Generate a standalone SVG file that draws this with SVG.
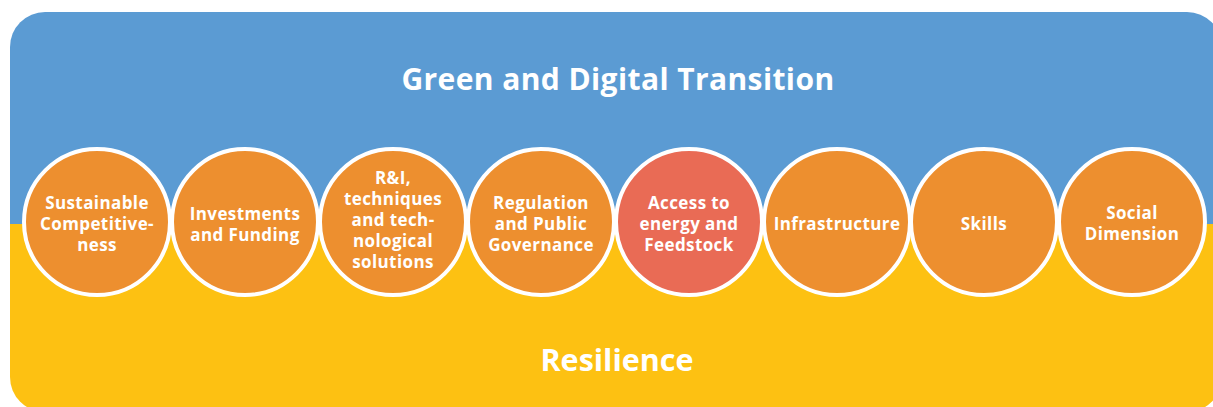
<svg xmlns="http://www.w3.org/2000/svg" width="1213" height="407" viewBox="0 0 1213 407">
<style>
.c{stroke:#fff;stroke-width:4}
.o{fill:#ED8F2F}
.r{fill:#E96B55}
.t{font-family:"Open Sans","Liberation Sans",sans-serif;font-weight:bold;fill:#fff;text-anchor:middle;font-size:17px;letter-spacing:0.4px}
.h{font-family:"Open Sans","Liberation Sans",sans-serif;font-weight:bold;fill:#fff;text-anchor:middle}
</style>
<defs>
<clipPath id="bg"><rect x="10" y="12" width="1212" height="400" rx="35" ry="35"/></clipPath>
</defs>
<g id="background" clip-path="url(#bg)">
<rect x="0" y="0" width="1213" height="224" fill="#5B9BD3"/>
<rect x="0" y="224" width="1213" height="190" fill="#FDC112"/>
</g>
<text class="h" x="618" y="90" font-size="30" letter-spacing="0.4">Green and Digital Transition</text>
<text class="h" x="617" y="371" font-size="30.5">Resilience</text>
<g id="n1"><circle class="c o" cx="97" cy="222" r="73"/><text class="t"><tspan x="97" y="209">Sustainable</tspan><tspan x="97" y="230">Competitive-</tspan><tspan x="97" y="251">ness</tspan></text></g>
<g id="n2"><circle class="c o" cx="245" cy="222" r="73"/><text class="t"><tspan x="245" y="220">Investments</tspan><tspan x="245" y="241">and Funding</tspan></text></g>
<g id="n3"><circle class="c o" cx="393" cy="222" r="73"/><text class="t"><tspan x="393" y="184">R&amp;I,</tspan><tspan x="393" y="205">techniques</tspan><tspan x="393" y="226">and tech-</tspan><tspan x="393" y="247">nological</tspan><tspan x="393" y="268">solutions</tspan></text></g>
<g id="n4"><circle class="c o" cx="541" cy="222" r="73"/><text class="t"><tspan x="541" y="209">Regulation</tspan><tspan x="541" y="230">and Public</tspan><tspan x="541" y="251">Governance</tspan></text></g>
<g id="n5"><circle class="c r" cx="689" cy="222" r="73"/><text class="t"><tspan x="689" y="209">Access to</tspan><tspan x="689" y="230">energy and</tspan><tspan x="689" y="251">Feedstock</tspan></text></g>
<g id="n6"><circle class="c o" cx="837" cy="222" r="73"/><text class="t"><tspan x="837" y="230">Infrastructure</tspan></text></g>
<g id="n7"><circle class="c o" cx="984" cy="222" r="73"/><text class="t"><tspan x="984" y="230">Skills</tspan></text></g>
<g id="n8"><circle class="c o" cx="1132" cy="222" r="73"/><text class="t"><tspan x="1132" y="219">Social</tspan><tspan x="1132" y="240">Dimension</tspan></text></g>
</svg>
